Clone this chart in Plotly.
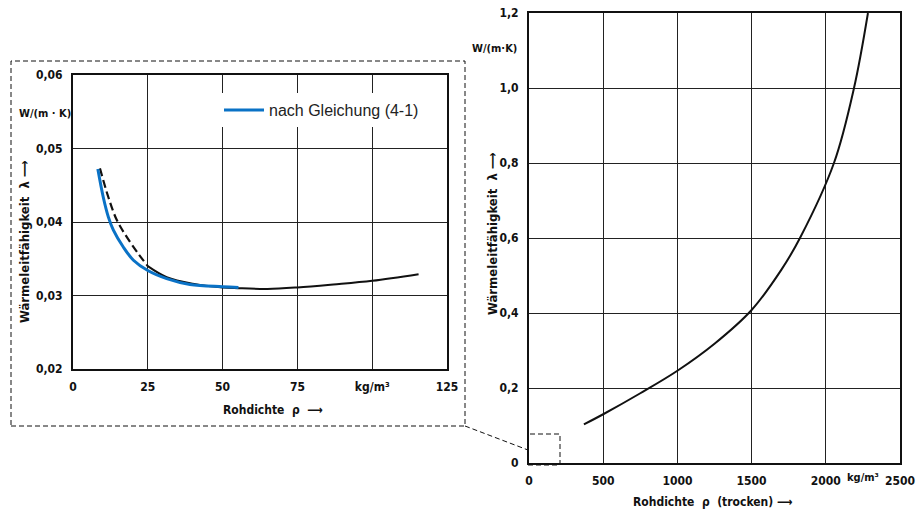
import plotly.graph_objects as go

W, H = 916, 513

# ---------------- data ----------------
# left chart (low density insulation)
left_dash_x = [9.0, 11.8, 14.6, 17.9, 21.8, 25.0]
left_dash_y = [0.0473, 0.0434, 0.0403, 0.0380, 0.0357, 0.0340]
left_solid_x = [25.0, 31.3, 40.0, 50.0, 55.0, 65.0, 75.0, 87.0, 100.0, 115.5]
left_solid_y = [0.0340, 0.0325, 0.0316, 0.0311, 0.0310, 0.0309, 0.0311, 0.0315, 0.0320, 0.0329]
blue_x = [8.3, 10.1, 11.8, 13.5, 16.8, 20.2, 25.0, 31.3, 39.1, 50.0, 55.3]
blue_y = [0.0472, 0.0434, 0.0407, 0.0389, 0.0366, 0.0348, 0.0334, 0.0323, 0.0315, 0.0312, 0.0311]
legend_label = "nach Gleichung (4-1)"

left_xticks = [0, 25, 50, 75, 100, 125]
left_xticktext = ["0", "25", "50", "75", "kg/m³", "125"]
left_yticks = [0.02, 0.03, 0.04, 0.05, 0.06]
left_yticktext = ["0,02", "0,03", "0,04", "0,05", "0,06"]

# right chart (dry density)
right_x = [370, 500, 750, 1000, 1250, 1500, 1700, 1826, 2055, 2190, 2284]
right_y = [0.103, 0.130, 0.186, 0.246, 0.318, 0.408, 0.515, 0.600, 0.800, 1.000, 1.200]

right_xticks = [0, 500, 1000, 1500, 2000, 2500]
right_xticktext = ["0", "500", "1000", "1500", "2000", "2500"]
right_yticks = [0, 0.2, 0.4, 0.6, 0.8, 1.0, 1.2]
right_yticktext = ["0", "0,2", "0,4", "0,6", "0,8", "1,0", "1,2"]


def px(x):
    return x / W


def py(y):
    return 1 - y / H


FONT = "DejaVu Sans Condensed, Liberation Sans Narrow, sans-serif"
tickfont = dict(family=FONT, size=12, color="#111", weight="bold")

fig = go.Figure()

fig.add_trace(go.Scatter(x=left_dash_x, y=left_dash_y, mode="lines",
                         line=dict(color="#111", width=2.2, dash="8px,4px", shape="spline"),
                         showlegend=False, xaxis="x", yaxis="y"))
fig.add_trace(go.Scatter(x=left_solid_x, y=left_solid_y, mode="lines",
                         line=dict(color="#111", width=2, shape="spline"),
                         showlegend=False, xaxis="x", yaxis="y"))
fig.add_trace(go.Scatter(x=blue_x, y=blue_y, mode="lines", name=legend_label,
                         line=dict(color="#0A72C6", width=3, shape="spline"),
                         showlegend=True, xaxis="x", yaxis="y"))
fig.add_trace(go.Scatter(x=right_x, y=right_y, mode="lines",
                         line=dict(color="#111", width=2, shape="spline", smoothing=1.0),
                         showlegend=False, xaxis="x2", yaxis="y2"))

axis_common = dict(showline=True, mirror=True, linecolor="#111", linewidth=2,
                   showgrid=True, gridcolor="#222", gridwidth=1.3, zeroline=False,
                   ticks="", tickfont=tickfont, ticklabelstandoff=6, fixedrange=True,
                   automargin=False)

fig.update_layout(
    width=W, height=H,
    margin=dict(l=0, r=0, t=0, b=0),
    paper_bgcolor="white", plot_bgcolor="white",
    xaxis=dict(domain=[px(73), px(447)], range=[0, 125], tickmode="array",
               tickvals=left_xticks, ticktext=left_xticktext, anchor="y", **axis_common),
    yaxis=dict(domain=[py(369), py(75)], range=[0.02, 0.06], tickmode="array",
               tickvals=left_yticks, ticktext=left_yticktext, anchor="x", **axis_common),
    xaxis2=dict(domain=[px(529), px(900)], range=[0, 2500], tickmode="array",
                tickvals=right_xticks, ticktext=right_xticktext, anchor="y2", **axis_common),
    yaxis2=dict(domain=[py(463), py(13)], range=[0, 1.2], tickmode="array",
                tickvals=right_yticks, ticktext=right_yticktext, anchor="x2", **axis_common),
    legend=dict(x=px(219), y=py(93), xanchor="left", yanchor="top",
                bgcolor="white", borderwidth=0,
                font=dict(family="Liberation Sans, Arial, sans-serif", size=16, color="#222"),
                itemwidth=40, tracegroupgap=0),
    showlegend=True,
)

ann_font = dict(family=FONT, size=12, color="#111", weight="bold")
small_font = dict(family=FONT, size=11, color="#111", weight="bold")
annotations = [
    dict(x=px(45), y=py(113), text="W/(m · K)", font=small_font),
    dict(x=px(24), y=py(242), text="Wärmeleitfähigkeit  λ ⟶", textangle=-90,
         font=dict(family=FONT, size=13, color="#111", weight="bold")),
    dict(x=px(273), y=py(410), text="Rohdichte  ρ  ⟶", font=ann_font),
    dict(x=px(494), y=py(48), text="W/(m·K)", font=small_font),
    dict(x=px(492), y=py(234), text="Wärmeleitfähigkeit  λ ⟶", textangle=-90,
         font=dict(family=FONT, size=13, color="#111", weight="bold")),
    dict(x=px(863), y=py(477), text="kg/m³", font=small_font),
    dict(x=px(712), y=py(502), text="Rohdichte  ρ  (trocken) ⟶", font=ann_font),
]
for a in annotations:
    a.update(xref="paper", yref="paper", xanchor="center", yanchor="middle", showarrow=False)
fig.update_layout(annotations=annotations)

dash_line = dict(color="#111", width=1, dash="5px,3px")
shapes = [
    dict(type="rect", xref="paper", yref="paper", x0=px(11), x1=px(465), y0=py(426), y1=py(61),
         line=dash_line, layer="above"),
    dict(type="line", xref="paper", yref="paper", x0=px(465), y0=py(426), x1=px(528), y1=py(450),
         line=dash_line, layer="above"),
    dict(type="rect", xref="paper", yref="paper", x0=px(528), x1=px(560), y0=py(465), y1=py(434),
         line=dash_line, layer="above"),
]
fig.update_layout(shapes=shapes)

fig.write_html("out.html", config={"displayModeBar": False},
               post_script="document.body.style.margin='0';")
